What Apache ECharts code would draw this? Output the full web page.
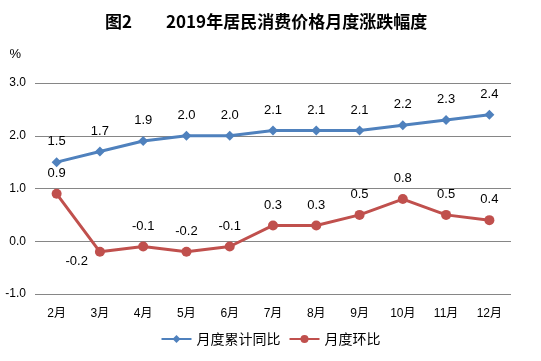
<!DOCTYPE html>
<html><head><meta charset="utf-8">
<script src="https://cdn.jsdelivr.net/npm/echarts@6/dist/echarts.min.js"></script>
<style>html,body{margin:0;padding:0;background:#fff;}#c{width:541px;height:361px;}</style>
</head><body><div id="c"></div>
<script>
var categories = ['2月','3月','4月','5月','6月','7月','8月','9月','10月','11月','12月'];
var cumulativeYoY = [1.5,1.7,1.9,2.0,2.0,2.1,2.1,2.1,2.2,2.3,2.4];
var monthlyMoM = [0.9,-0.2,-0.1,-0.2,-0.1,0.3,0.3,0.5,0.8,0.5,0.4];
var seriesNames = ['月度累计同比','月度环比'];
var titleText = '图2　　2019年居民消费价格月度涨跌幅度';

var FONT = '"Liberation Sans","Noto Sans CJK SC",sans-serif';
var chart = echarts.init(document.getElementById('c'), null, {renderer:'canvas'});
var momData = monthlyMoM.map(function(v,i){
  if (i === 1) return {value:v, label:{position:'left', offset:[2,10]}};
  return v;
});
chart.setOption({
  animation:false,
  backgroundColor:'#fff',
  title:{text:titleText,left:100,top:8,textStyle:{fontSize:17,fontWeight:'bold',color:'#000',fontFamily:'"Noto Sans CJK SC",sans-serif'}},
  legend:{bottom:10,left:'center',itemWidth:30,itemHeight:10,itemGap:8,
    textStyle:{fontSize:14,color:'#000',fontFamily:'"Noto Sans CJK SC",sans-serif'},
    data:seriesNames},
  grid:{left:35,right:30,top:83,bottom:67,containLabel:false},
  xAxis:{type:'category',data:categories,boundaryGap:true,
    axisLine:{show:false},axisTick:{show:false},
    axisLabel:{fontSize:12,color:'#000',margin:14,fontFamily:FONT}},
  yAxis:{type:'value',min:-1,max:3,interval:1,name:'%',
    nameLocation:'end',nameGap:22,nameTextStyle:{fontSize:13,color:'#000',align:'right',padding:[0,14,0,0],fontFamily:FONT},
    axisLine:{show:false},axisTick:{show:false},
    axisLabel:{fontSize:12,color:'#000',margin:9,formatter:function(v){return v.toFixed(1);},fontFamily:FONT},
    splitLine:{lineStyle:{color:'#868686',width:1}}},
  series:[
    {name:seriesNames[0],type:'line',data:cumulativeYoY,symbol:'diamond',symbolSize:10,
      lineStyle:{color:'#4F81BD',width:3},itemStyle:{color:'#4F81BD'},
      label:{show:true,position:'top',distance:9,fontSize:13,color:'#000',fontFamily:FONT,formatter:function(p){return Number(p.value).toFixed(1);}}},
    {name:seriesNames[1],type:'line',data:momData,symbol:'circle',symbolSize:10,
      lineStyle:{color:'#C0504D',width:3},itemStyle:{color:'#C0504D'},
      label:{show:true,position:'top',distance:9,fontSize:13,color:'#000',fontFamily:FONT,formatter:function(p){return Number(p.value).toFixed(1);}}}
  ]
});
</script></body></html>
